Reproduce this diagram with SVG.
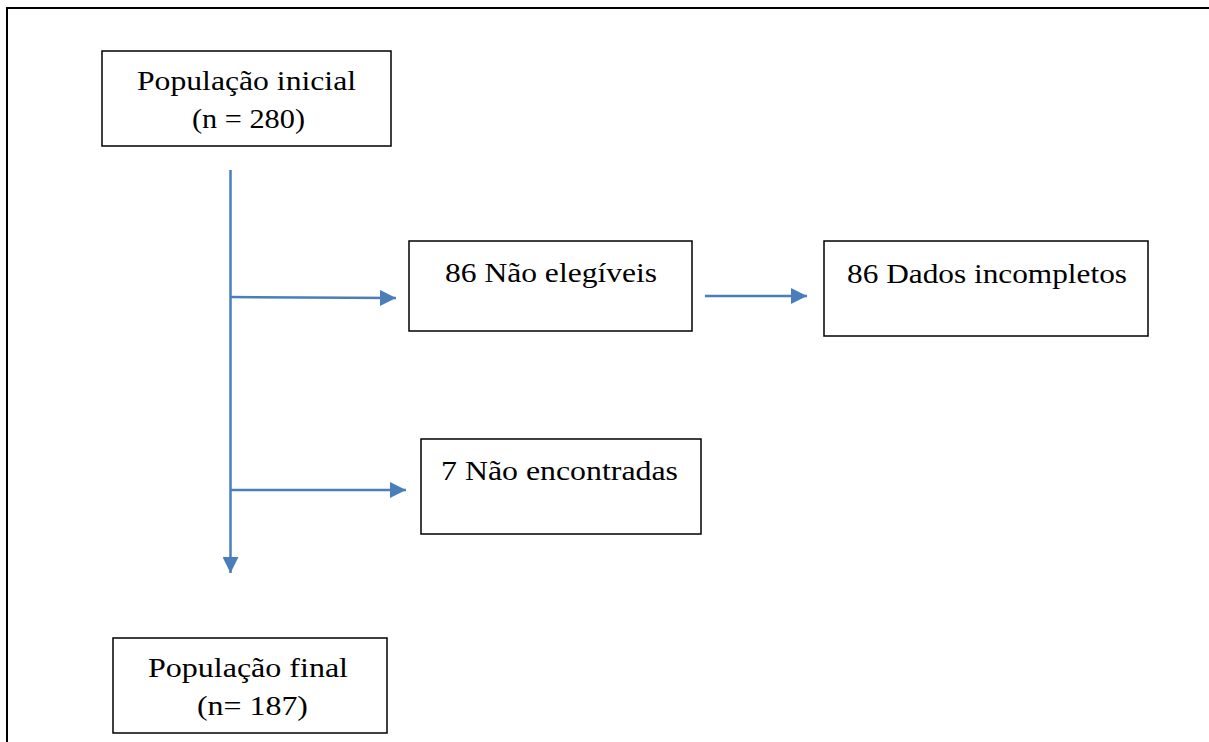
<svg xmlns="http://www.w3.org/2000/svg" width="1209" height="742" viewBox="0 0 1209 742">
  <style>
    .box { fill: #ffffff; stroke: #000000; stroke-width: 1.5; }
    .lbl { font-family: 'Liberation Serif', 'DejaVu Serif', serif; font-size: 28px; fill: #000000; text-anchor: middle; }
    .conn { stroke: #4a7ebb; stroke-width: 2.5; fill: none; }
    .frame { stroke: #000000; stroke-width: 2; fill: none; }
  </style>
  <defs>
    <marker id="arr" markerUnits="userSpaceOnUse" markerWidth="17" markerHeight="16" refX="16" refY="8" orient="auto">
      <path d="M0,0 L16,8 L0,16 Z" fill="#4a7ebb"/>
    </marker>
  </defs>

  <g id="frame">
    <path class="frame" d="M7,742 L7,8 L1209,8"/>
  </g>

  <g id="connectors">
    <line class="conn" x1="230.5" y1="170" x2="230.5" y2="573" marker-end="url(#arr)"/>
    <line class="conn" x1="230.5" y1="297" x2="396" y2="298" marker-end="url(#arr)"/>
    <line class="conn" x1="705" y1="296" x2="807" y2="296" marker-end="url(#arr)"/>
    <line class="conn" x1="230.5" y1="490" x2="406" y2="490" marker-end="url(#arr)"/>
  </g>

  <g id="node-inicial">
    <rect class="box" x="102" y="51" width="289" height="95"/>
    <text class="lbl" x="246.5" y="90" textLength="219" lengthAdjust="spacingAndGlyphs">População inicial</text>
    <text class="lbl" x="248.5" y="128" textLength="113" lengthAdjust="spacingAndGlyphs">(n = 280)</text>
  </g>

  <g id="node-nao-elegiveis">
    <rect class="box" x="409" y="241" width="283" height="90"/>
    <text class="lbl" x="551" y="282" textLength="212" lengthAdjust="spacingAndGlyphs">86 Não elegíveis</text>
  </g>

  <g id="node-dados-incompletos">
    <rect class="box" x="824" y="241" width="324" height="95"/>
    <text class="lbl" x="987" y="283" textLength="280" lengthAdjust="spacingAndGlyphs">86 Dados incompletos</text>
  </g>

  <g id="node-nao-encontradas">
    <rect class="box" x="421" y="439" width="280" height="95"/>
    <text class="lbl" x="559.5" y="480" textLength="237" lengthAdjust="spacingAndGlyphs">7 Não encontradas</text>
  </g>

  <g id="node-final">
    <rect class="box" x="113" y="638" width="274" height="95"/>
    <text class="lbl" x="248" y="677" textLength="200" lengthAdjust="spacingAndGlyphs">População final</text>
    <text class="lbl" x="252.5" y="715" textLength="111" lengthAdjust="spacingAndGlyphs">(n= 187)</text>
  </g>
</svg>
